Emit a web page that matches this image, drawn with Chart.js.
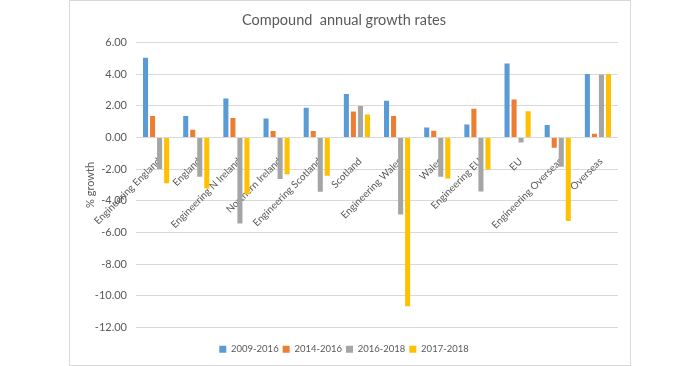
<!DOCTYPE html>
<html>
<head>
<meta charset="utf-8">
<script src="https://cdn.jsdelivr.net/npm/chart.js@4"></script>
<style>
    body { margin: 0; background: #fff; }
    #frame {
        position: absolute; left: 69px; top: 0;
        width: 560px; height: 364px;
        border: 1px solid #d9d9d9;
    }
</style>
</head>
<body>
<div id="frame"><canvas id="growthChart" width="560" height="364"></canvas></div>
<script>
// Data
const categories = [
    "Engineering England", "England", "Engineering N Ireland", "Northern Ireland",
    "Engineering Scotland", "Scotland", "Engineering Wales", "Wales",
    "Engineering EU", "EU", "Engineering Overseas", "Overseas"
];
const periods = ["2009-2016", "2014-2016", "2016-2018", "2017-2018"];
const growth0916 = [5.03, 1.35, 2.46, 1.20, 1.87, 2.74, 2.32, 0.63, 0.82, 4.67, 0.78, 4.00];
const growth1416 = [1.35, 0.48, 1.22, 0.40, 0.40, 1.64, 1.35, 0.42, 1.81, 2.40, -0.65, 0.23];
const growth1618 = [-2.00, -2.48, -5.43, -2.63, -3.43, 1.98, -4.86, -2.48, -3.41, -0.32, -1.85, 3.98];
const growth1718 = [-2.90, -3.22, -3.58, -2.32, -2.42, 1.45, -10.66, -2.60, -2.02, 1.66, -5.27, 4.00];
const yTicks = [6, 4, 2, 0, -2, -4, -6, -8, -10, -12];

const colors = ["#5B9BD5", "#ED7D31", "#A5A5A5", "#FFC000"];
const series = [growth0916, growth1416, growth1618, growth1718];
const fontFamily = "Lato, 'Open Sans', sans-serif";
const textColor = "#595959";

const ctx = document.getElementById("growthChart").getContext("2d");
new Chart(ctx, {
    type: "bar",
    data: {
        labels: categories,
        datasets: series.map((values, i) => ({
            label: periods[i],
            data: values,
            backgroundColor: colors[i],
            barPercentage: 0.72,
            categoryPercentage: 0.7
        }))
    },
    options: {
        responsive: false,
        animation: false,
        layout: { padding: { left: 0, right: 12, top: 0, bottom: 1 } },
        plugins: {
            title: {
                display: true,
                text: "Compound  annual growth rates",
                color: textColor,
                font: { family: fontFamily, size: 14.5, weight: "normal" },
                padding: { top: 11, bottom: 13 }
            },
            legend: {
                position: "bottom",
                // empty title just adds a gap above the legend row
                title: { display: true, text: "", padding: 0, font: { size: 13, lineHeight: 1 } },
                labels: {
                    color: textColor,
                    font: { family: fontFamily, size: 9.5 },
                    boxWidth: 7,
                    boxHeight: 7,
                    padding: 4
                }
            },
            tooltip: { enabled: false }
        },
        scales: {
            x: {
                position: { y: 0 },
                grid: { display: false },
                border: { display: false },
                ticks: {
                    color: textColor,
                    font: { family: fontFamily, size: 10 },
                    minRotation: 45,
                    maxRotation: 45,
                    autoSkip: false,
                    padding: 10,
                    labelOffset: 3
                }
            },
            y: {
                min: -12,
                max: 6,
                afterBuildTicks: scale => {
                    scale.ticks = yTicks.map(v => ({ value: v }));
                },
                afterFit: scale => { scale.width = 66; },
                grid: { color: "#d9d9d9", drawTicks: false },
                border: { display: false },
                ticks: {
                    color: textColor,
                    font: { family: fontFamily, size: 11 },
                    padding: 9,
                    callback: v => v.toFixed(2)
                },
                title: {
                    display: true,
                    text: "% growth",
                    color: textColor,
                    font: { family: fontFamily, size: 11 },
                    padding: { top: 14, bottom: 0 }
                }
            }
        }
    }
});
</script>
</body>
</html>
